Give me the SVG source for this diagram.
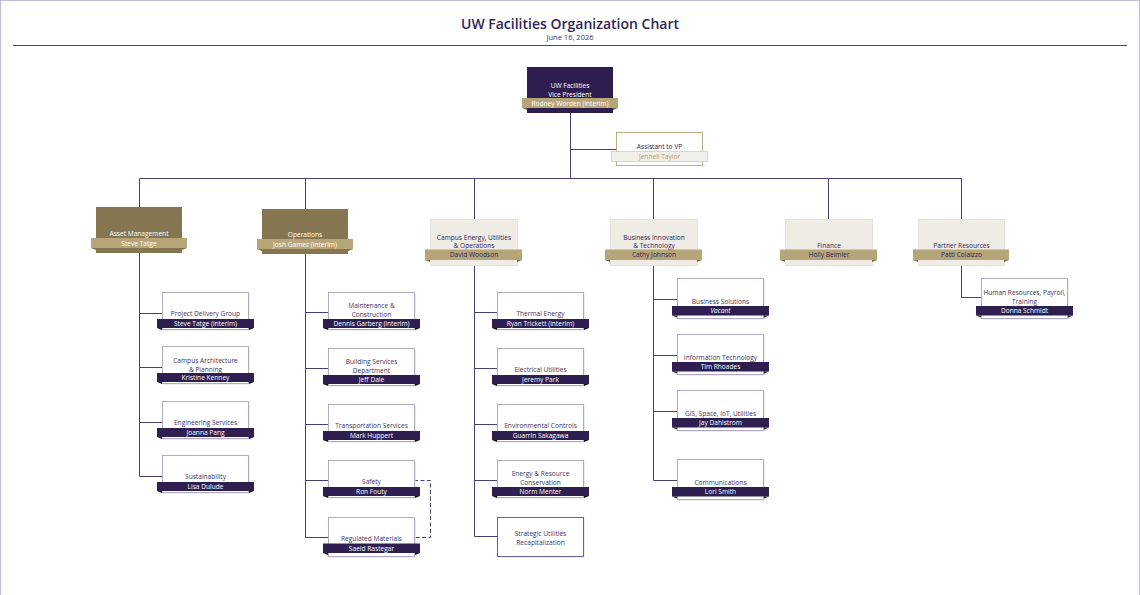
<svg xmlns="http://www.w3.org/2000/svg" width="1140" height="595" viewBox="0 0 1140 595">
<style>
text{font-family:"Open Sans","Liberation Sans",sans-serif;text-anchor:middle}
.ttl{font-size:14px;font-weight:600;fill:#2f2456}
.date{font-size:7.5px;fill:#3a3060}
.t{font-size:6.6px;fill:#3d3462}
.tw{font-size:6.6px;fill:#ffffff}
.tn{font-size:6.6px;fill:#ffffff}
.tp{font-size:6.6px;fill:#2f2456}
.tg{font-size:6.6px;fill:#b0a070}
.conn{fill:none;stroke:#4a3f72;stroke-width:1}
.dash{fill:none;stroke:#4a3f72;stroke-width:1;stroke-dasharray:4 2.5}
.sh{fill:#dedde3}
.b3{fill:#ffffff;stroke:#a098bb;stroke-width:0.8}
.b3d{fill:#ffffff;stroke:#5d5285;stroke-width:0.9}
.rp{fill:#2f1f50}
.fp{fill:#15092b}
.rt{fill:#b7a57a}
.ft{fill:#7e6f4a}
.bo{fill:#857550}
.bl{fill:#efece5;stroke:#e0ddd5;stroke-width:0.8}
.bv{fill:#2e1e4f}
.ba{fill:#ffffff;stroke:#b7a57a;stroke-width:0.9}
.rl{fill:#f1efe9;stroke:#c9c6c0;stroke-width:0.7}
</style>
<path d="M0.5,595 V0.5 H1139.5 V595" fill="none" stroke="#c4bdd4" stroke-width="1.2"/>
<g id="header">
<text class="ttl" x="570" y="29">UW Facilities Organization Chart</text>
<text class="date" x="570" y="39.5">June 16, 2026</text>
<line x1="13" y1="45.5" x2="1127" y2="45.5" stroke="#4b4570" stroke-width="1.2"/>
</g>
<g id="connectors">
<path class="conn" d="M570.5,113 V178.5 M570.5,149.5 H616"/>
<path class="conn" d="M139.5,178.5 H961.5 M139.5,178.5 V207 M305.5,178.5 V209 M474.5,178.5 V219 M653.5,178.5 V219 M828.5,178.5 V219 M961.5,178.5 V219"/>
<path class="conn" d="M139.5,253 V476.5 M139.5,313.5 H162 M139.5,367.5 H162 M139.5,422.5 H162 M139.5,476.5 H162"/>
<path class="conn" d="M305.5,254 V537.5 M305.5,312.5 H328 M305.5,368.5 H328 M305.5,424.5 H328 M305.5,480.5 H328 M305.5,537.5 H328"/>
<path class="conn" d="M474.5,265 V536.5 M474.5,312.5 H497 M474.5,368.5 H497 M474.5,424.5 H497 M474.5,480.5 H497 M474.5,536.5 H497"/>
<path class="conn" d="M653.5,265 V480.5 M653.5,299.5 H677 M653.5,355.5 H677 M653.5,411.5 H677 M653.5,480.5 H677"/>
<path class="conn" d="M961.5,265 V297.5 H981"/>
<path class="dash" d="M414,480.5 H430.5 V537.5 H414"/>
</g>
<g id="vp">
<rect class="bv" x="527" y="67" width="86" height="46"/>
<text class="tw" x="570" y="87.5">UW Facilities</text>
<text class="tw" x="570" y="96.5">Vice President</text>
<polygon class="ft" points="522,108 527,108 527,110"/><polygon class="ft" points="618,108 613,108 613,110"/>
<rect class="rt" x="522" y="98" width="96" height="10"/>
<text class="tw" x="570" y="105.8">Rodney Worden (interim)</text>
</g>
<g id="assistant">
<rect class="ba" x="616.5" y="132.5" width="86" height="33"/>
<text class="tp" x="659.5" y="149">Assistant to VP</text>
<rect class="rl" x="611.5" y="151.5" width="96" height="10"/>
<text class="tg" x="659.5" y="159">Jennell Taylor</text>
</g>
<g id="asset-management">
<rect class="bo" x="96" y="207" width="86" height="46"/>
<text class="tw" x="139" y="235.5">Asset Management</text>
<polygon class="ft" points="91,248 96,248 96,250"/><polygon class="ft" points="187,248 182,248 182,250"/>
<rect class="rt" x="91" y="238" width="96" height="10"/>
<text class="tw" x="139" y="245.5">Steve Tatge</text>
</g>
<g id="operations">
<rect class="bo" x="262" y="209" width="86" height="45"/>
<text class="tw" x="305" y="237">Operations</text>
<polygon class="ft" points="257,249 262,249 262,251"/><polygon class="ft" points="353,249 348,249 348,251"/>
<rect class="rt" x="257" y="239" width="96" height="10"/>
<text class="tw" x="305" y="246.5">Josh Gamez (interim)</text>
</g>
<g id="campus-energy">
<rect class="bl" x="430.5" y="219.5" width="87" height="46"/>
<text class="tp" x="474" y="239.5">Campus Energy, Utilities</text>
<text class="tp" x="474" y="248">&amp; Operations</text>
<polygon class="ft" points="425,260 430,260 430,262"/><polygon class="ft" points="522,260 517,260 517,262"/>
<rect class="rt" x="425" y="249.5" width="97" height="10.5"/>
<text class="tp" x="474" y="257.3">David Woodson</text>
</g>
<g id="business-innovation">
<rect class="bl" x="610.5" y="219.5" width="87" height="46"/>
<text class="tp" x="654" y="239.5">Business Innovation</text>
<text class="tp" x="654" y="248">&amp; Technology</text>
<polygon class="ft" points="605,260 610,260 610,262"/><polygon class="ft" points="702,260 697,260 697,262"/>
<rect class="rt" x="605" y="249.5" width="97" height="10.5"/>
<text class="tp" x="654" y="257.3">Cathy Johnson</text>
</g>
<g id="finance">
<rect class="bl" x="785.5" y="219.5" width="87" height="46"/>
<text class="tp" x="829" y="248">Finance</text>
<polygon class="ft" points="780,260 785,260 785,262"/><polygon class="ft" points="877,260 872,260 872,262"/>
<rect class="rt" x="780" y="249.5" width="97" height="10.5"/>
<text class="tp" x="829" y="257.3">Holly Beimler</text>
</g>
<g id="partner-resources">
<rect class="bl" x="918.5" y="219.5" width="86" height="46"/>
<text class="tp" x="961.5" y="248">Partner Resources</text>
<polygon class="ft" points="913,260 918,260 918,262"/><polygon class="ft" points="1009,260 1004,260 1004,262"/>
<rect class="rt" x="913" y="249.5" width="96" height="10.5"/>
<text class="tp" x="961.5" y="257.3">Patti Colaizzo</text>
</g>
<!-- Asset column -->
<g id="project-delivery">
<rect class="sh" x="163.5" y="293.5" width="86" height="37"/>
<rect class="b3" x="162.5" y="292.5" width="86" height="37"/>
<text class="t" x="205.5" y="316">Project Delivery Group</text>
<polygon class="fp" points="157,328 162,328 162,330"/><polygon class="fp" points="254,328 249,328 249,330"/>
<rect class="rp" x="157" y="319" width="97" height="9"/>
<text class="tn" x="205.5" y="326">Steve Tatge (interim)</text>
</g>
<g id="campus-architecture">
<rect class="sh" x="163.5" y="347.5" width="86" height="37"/>
<rect class="b3" x="162.5" y="346.5" width="86" height="37"/>
<text class="t" x="205.5" y="362.5">Campus Architecture</text>
<text class="t" x="205.5" y="371.5">&amp; Planning</text>
<polygon class="fp" points="157,382 162,382 162,384"/><polygon class="fp" points="254,382 249,382 249,384"/>
<rect class="rp" x="157" y="373" width="97" height="9"/>
<text class="tn" x="205.5" y="380">Kristine Kenney</text>
</g>
<g id="engineering-services">
<rect class="sh" x="163.5" y="402.5" width="86" height="37"/>
<rect class="b3" x="162.5" y="401.5" width="86" height="37"/>
<text class="t" x="205.5" y="425">Engineering Services</text>
<polygon class="fp" points="157,437 162,437 162,439"/><polygon class="fp" points="254,437 249,437 249,439"/>
<rect class="rp" x="157" y="428" width="97" height="9"/>
<text class="tn" x="205.5" y="435">Joanna Pang</text>
</g>
<g id="sustainability">
<rect class="sh" x="163.5" y="456.5" width="86" height="37"/>
<rect class="b3" x="162.5" y="455.5" width="86" height="37"/>
<text class="t" x="205.5" y="479">Sustainability</text>
<polygon class="fp" points="157,491 162,491 162,493"/><polygon class="fp" points="254,491 249,491 249,493"/>
<rect class="rp" x="157" y="482" width="97" height="9"/>
<text class="tn" x="205.5" y="489">Lisa Dulude</text>
</g>
<!-- Operations column -->
<g id="maintenance">
<rect class="sh" x="329.5" y="293.5" width="86" height="37"/>
<rect class="b3" x="328.5" y="292.5" width="86" height="37"/>
<text class="t" x="371.5" y="308">Maintenance &amp;</text>
<text class="t" x="371.5" y="317">Construction</text>
<polygon class="fp" points="323,328 328,328 328,330"/><polygon class="fp" points="420,328 415,328 415,330"/>
<rect class="rp" x="323" y="319" width="97" height="9"/>
<text class="tn" x="371.5" y="326">Dennis Garberg (interim)</text>
</g>
<g id="building-services">
<rect class="sh" x="329.5" y="349.5" width="86" height="37"/>
<rect class="b3" x="328.5" y="348.5" width="86" height="37"/>
<text class="t" x="371.5" y="364">Building Services</text>
<text class="t" x="371.5" y="373">Department</text>
<polygon class="fp" points="323,384 328,384 328,386"/><polygon class="fp" points="420,384 415,384 415,386"/>
<rect class="rp" x="323" y="375" width="97" height="9"/>
<text class="tn" x="371.5" y="382">Jeff Dale</text>
</g>
<g id="transportation">
<rect class="sh" x="329.5" y="405.5" width="86" height="37"/>
<rect class="b3" x="328.5" y="404.5" width="86" height="37"/>
<text class="t" x="371.5" y="428">Transportation Services</text>
<polygon class="fp" points="323,440 328,440 328,442"/><polygon class="fp" points="420,440 415,440 415,442"/>
<rect class="rp" x="323" y="431" width="97" height="9"/>
<text class="tn" x="371.5" y="438">Mark Huppert</text>
</g>
<g id="safety">
<rect class="sh" x="329.5" y="461.5" width="86" height="37"/>
<rect class="b3" x="328.5" y="460.5" width="86" height="37"/>
<text class="t" x="371.5" y="484">Safety</text>
<polygon class="fp" points="323,496 328,496 328,498"/><polygon class="fp" points="420,496 415,496 415,498"/>
<rect class="rp" x="323" y="487" width="97" height="9"/>
<text class="tn" x="371.5" y="494">Ron Fouty</text>
</g>
<g id="regulated-materials">
<rect class="sh" x="329.5" y="518.5" width="86" height="39"/>
<rect class="b3" x="328.5" y="517.5" width="86" height="39"/>
<text class="t" x="371.5" y="540.5">Regulated Materials</text>
<polygon class="fp" points="323,553 328,553 328,555"/><polygon class="fp" points="420,553 415,553 415,555"/>
<rect class="rp" x="323" y="543.5" width="97" height="9.5"/>
<text class="tn" x="371.5" y="550.5">Saeid Rastegar</text>
</g>
<!-- Campus Energy column -->
<g id="thermal-energy">
<rect class="sh" x="498.5" y="293.5" width="86" height="37"/>
<rect class="b3" x="497.5" y="292.5" width="86" height="37"/>
<text class="t" x="540.5" y="316">Thermal Energy</text>
<polygon class="fp" points="492,328 497,328 497,330"/><polygon class="fp" points="589,328 584,328 584,330"/>
<rect class="rp" x="492" y="319" width="97" height="9"/>
<text class="tn" x="540.5" y="326">Ryan Trickett (interim)</text>
</g>
<g id="electrical-utilities">
<rect class="sh" x="498.5" y="349.5" width="86" height="37"/>
<rect class="b3" x="497.5" y="348.5" width="86" height="37"/>
<text class="t" x="540.5" y="372">Electrical Utilities</text>
<polygon class="fp" points="492,384 497,384 497,386"/><polygon class="fp" points="589,384 584,384 584,386"/>
<rect class="rp" x="492" y="375" width="97" height="9"/>
<text class="tn" x="540.5" y="382">Jeremy Park</text>
</g>
<g id="environmental-controls">
<rect class="sh" x="498.5" y="405.5" width="86" height="37"/>
<rect class="b3" x="497.5" y="404.5" width="86" height="37"/>
<text class="t" x="540.5" y="428">Environmental Controls</text>
<polygon class="fp" points="492,440 497,440 497,442"/><polygon class="fp" points="589,440 584,440 584,442"/>
<rect class="rp" x="492" y="431" width="97" height="9"/>
<text class="tn" x="540.5" y="438">Guarrin Sakagawa</text>
</g>
<g id="energy-conservation">
<rect class="sh" x="498.5" y="461.5" width="86" height="37"/>
<rect class="b3" x="497.5" y="460.5" width="86" height="37"/>
<text class="t" x="540.5" y="475.5">Energy &amp; Resource</text>
<text class="t" x="540.5" y="484.5">Conservation</text>
<polygon class="fp" points="492,496 497,496 497,498"/><polygon class="fp" points="589,496 584,496 584,498"/>
<rect class="rp" x="492" y="487" width="97" height="9"/>
<text class="tn" x="540.5" y="494">Norm Menter</text>
</g>
<g id="strategic-utilities">
<rect class="sh" x="498.5" y="518.5" width="86" height="39"/>
<rect class="b3d" x="497.5" y="517.5" width="86" height="39"/>
<text class="t" x="540.5" y="535.5">Strategic Utilities</text>
<text class="t" x="540.5" y="544.5">Recapitalization</text>
</g>
<!-- Business Innovation column -->
<g id="business-solutions">
<rect class="sh" x="678.5" y="279.5" width="86" height="40"/>
<rect class="b3" x="677.5" y="278.5" width="86" height="40"/>
<text class="t" x="720.5" y="304">Business Solutions</text>
<polygon class="fp" points="672,315.5 677,315.5 677,317.5"/><polygon class="fp" points="769,315.5 764,315.5 764,317.5"/>
<rect class="rp" x="672" y="306" width="97" height="9.5"/>
<text class="tn" x="720.5" y="313" font-style="italic">Vacant</text>
</g>
<g id="information-technology">
<rect class="sh" x="678.5" y="335.5" width="86" height="40"/>
<rect class="b3" x="677.5" y="334.5" width="86" height="40"/>
<text class="t" x="720.5" y="359.5">Information Technology</text>
<polygon class="fp" points="672,371.5 677,371.5 677,373.5"/><polygon class="fp" points="769,371.5 764,371.5 764,373.5"/>
<rect class="rp" x="672" y="362" width="97" height="9.5"/>
<text class="tn" x="720.5" y="369">Tim Rhoades</text>
</g>
<g id="gis-space">
<rect class="sh" x="678.5" y="391.5" width="86" height="40"/>
<rect class="b3" x="677.5" y="390.5" width="86" height="40"/>
<text class="t" x="720.5" y="415.5">GIS, Space, IoT, Utilities</text>
<polygon class="fp" points="672,427.5 677,427.5 677,429.5"/><polygon class="fp" points="769,427.5 764,427.5 764,429.5"/>
<rect class="rp" x="672" y="418" width="97" height="9.5"/>
<text class="tn" x="720.5" y="425">Jay Dahlstrom</text>
</g>
<g id="communications">
<rect class="sh" x="678.5" y="460.5" width="86" height="40"/>
<rect class="b3" x="677.5" y="459.5" width="86" height="40"/>
<text class="t" x="720.5" y="484.5">Communications</text>
<polygon class="fp" points="672,496.5 677,496.5 677,498.5"/><polygon class="fp" points="769,496.5 764,496.5 764,498.5"/>
<rect class="rp" x="672" y="487" width="97" height="9.5"/>
<text class="tn" x="720.5" y="494">Lori Smith</text>
</g>
<!-- Partner Resources -->
<g id="human-resources">
<rect class="sh" x="982.5" y="279.5" width="86" height="40"/>
<rect class="b3" x="981.5" y="278.5" width="86" height="40"/>
<text class="t" x="1024.5" y="294.5">Human Resources, Payroll,</text>
<text class="t" x="1024.5" y="303.5">Training</text>
<polygon class="fp" points="976,315.5 981,315.5 981,317.5"/><polygon class="fp" points="1073,315.5 1068,315.5 1068,317.5"/>
<rect class="rp" x="976" y="306" width="97" height="9.5"/>
<text class="tn" x="1024.5" y="313">Donna Schmidt</text>
</g>
</svg>
